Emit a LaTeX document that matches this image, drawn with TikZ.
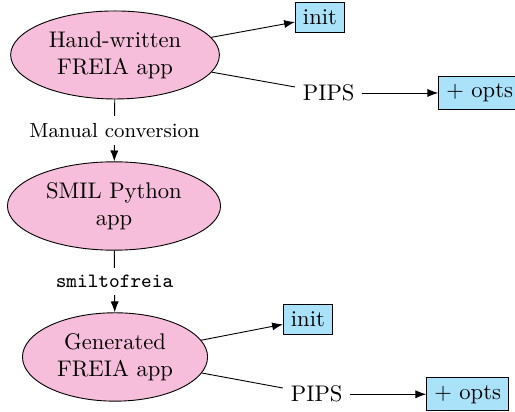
\documentclass[tikz,border=0pt]{standalone}
\usepackage{tikz}
\usetikzlibrary{positioning,shapes.geometric}
\usetikzlibrary{calc,arrows.meta}
\definecolor{apppink}{RGB}{246,190,218}
\definecolor{appblue}{RGB}{170,226,250}

\begin{document}
\begin{tikzpicture}
	[   enode/.style={draw=black,fill=#1,ellipse,align=center},
	    bnode/.style={draw=black,fill=#1,rectangle},
	]
	\tikzset{normal arrow/.style={draw,-{Latex}}}
	\useasboundingbox (0,0) rectangle (8.010,-6.408);
	
	\node[enode=apppink] (a-1) at (1.789,-0.855) {Hand-written\\FREIA app};
	\node[enode=apppink] (a-2) at (1.773,-3.204) {SMIL Python\\app};
	\node[enode=apppink] (a-3) at (1.789,-5.552) {Generated\\FREIA app};
	
	\path[normal arrow] (a-1) -- node[fill=white,font=\small] (c-1) {Manual conversion} (a-2);
	\path[normal arrow] (a-2) -- node[fill=white,font=\small\ttfamily] (c-2) {smiltofreia} (a-3);
	
	
	\foreach \n/\x/\yi/\yp in {1/4.588/-0.272/-1.446,3/4.401/-4.969/-6.132}
	{
		\node[bnode=appblue,anchor=west] (i-\n) at (\x,\yi) {init};
		\node[anchor=west] (p-\n) at (\x,\yp) {PIPS};
		\node[bnode=appblue,right=1.18cm of p-\n] (o-\n) {+ opts};
		
		\path[normal arrow] (a-\n) -- (i-\n);
		\draw (a-\n) -- (p-\n);
		\path[normal arrow] (p-\n) -- (o-\n);
	}
	
	\end{tikzpicture}
\end{document}
